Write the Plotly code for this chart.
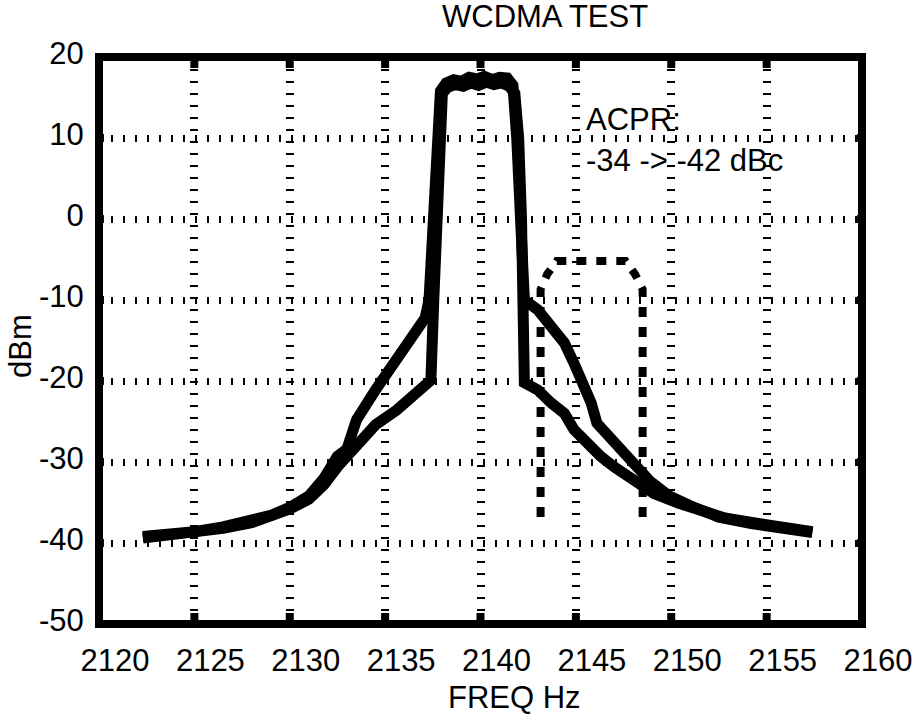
import plotly.graph_objects as go

# ---- data ----
freq_a = [2122.3, 2123.5, 2125.0, 2126.5, 2128.0, 2129.0, 2130.0, 2131.0, 2131.8, 2132.5,
          2133.0, 2133.5, 2134.5, 2135.6, 2136.4, 2136.9, 2137.1, 2137.3, 2137.5, 2137.7,
          2137.9, 2138.2, 2138.6, 2139.0, 2139.4, 2139.8, 2140.2, 2140.6, 2141.0, 2141.4,
          2141.7, 2141.9, 2142.1, 2142.3, 2143.0, 2143.7, 2144.4, 2144.9, 2145.4, 2145.8,
          2146.1, 2146.8, 2147.5, 2148.2, 2148.9, 2149.9, 2151.0, 2152.5, 2154.2, 2155.9,
          2157.4]
dbm_a = [-39.2, -39.0, -38.6, -38.0, -37.3, -36.6, -35.6, -34.2, -32.0, -29.3,
         -28.4, -24.8, -21.1, -17.4, -14.9, -13.0, -12.2, -10.0, 0.0, 10.0,
         15.8, 16.8, 17.2, 17.0, 17.5, 17.3, 17.6, 17.2, 17.5, 17.4,
         16.5, 10.0, 0.0, -10.0, -11.2, -13.3, -15.3, -17.8, -20.3, -22.7,
         -25.2, -26.9, -28.5, -30.6, -32.4, -34.2, -35.4, -36.8, -37.6, -38.2,
         -38.7]

freq_b = [2122.3, 2123.5, 2125.0, 2126.5, 2128.0, 2129.0, 2130.0, 2131.0, 2131.8, 2132.5,
          2133.5, 2134.5, 2135.6, 2136.6, 2137.2, 2137.4, 2137.55, 2137.7, 2137.85, 2138.0,
          2138.3, 2138.7, 2139.1, 2139.5, 2139.9, 2140.3, 2140.7, 2141.1, 2141.5, 2141.8,
          2142.0, 2142.15, 2142.3, 2143.0, 2143.7, 2144.4, 2144.9, 2145.6, 2146.3, 2147.0,
          2148.0, 2149.1, 2150.4, 2151.5, 2152.8, 2154.3, 2155.8, 2157.4]
dbm_b = [-39.4, -39.1, -38.8, -38.2, -37.5, -36.8, -35.8, -34.6, -32.8, -30.6,
         -27.9, -25.4, -23.6, -21.7, -20.5, -19.9, -10.0, 0.0, 10.0, 15.5,
         16.3, 16.6, 16.4, 16.8, 16.5, 16.9, 16.6, 16.8, 16.4, 15.5,
         10.0, 0.0, -20.2, -21.1, -22.7, -24.0, -26.0, -27.7, -29.3, -30.6,
         -32.2, -33.9, -35.1, -36.0, -36.9, -37.5, -38.1, -38.6]

mask_f = [2143.15, 2143.15, 2143.5, 2144.0, 2147.6, 2148.1, 2148.5, 2148.5]
mask_db = [-36.8, -8.7, -6.8, -5.2, -5.2, -6.8, -8.7, -36.8]

x_ticks = [2120, 2125, 2130, 2135, 2140, 2145, 2150, 2155, 2160]
y_ticks = [-50, -40, -30, -20, -10, 0, 10, 20]

W, H = 924, 722
L, R, T, B = 99, 871, 57, 624  # plot area in px

FONT = "Liberation Sans, Arial, sans-serif"
FS = 31

fig = go.Figure()
fig.add_trace(go.Scatter(x=mask_f, y=mask_db, mode="lines",
                         line=dict(color="black", width=8, dash="10px,10px"),
                         showlegend=False, hoverinfo="skip"))
fig.add_trace(go.Scatter(x=freq_a, y=dbm_a, mode="lines",
                         line=dict(color="black", width=11),
                         showlegend=False, hoverinfo="skip"))
fig.add_trace(go.Scatter(x=freq_b, y=dbm_b, mode="lines",
                         line=dict(color="black", width=11),
                         showlegend=False, hoverinfo="skip"))

def px2paper_x(px):
    return (px - L) / (R - L)

def px2paper_y(py):
    return (B - py) / (B - T)

common = dict(showgrid=True, gridcolor="black", griddash="2px,10px", zeroline=False,
              showline=True, linecolor="black", linewidth=4, mirror=True, ticks="",
              tickfont=dict(family=FONT, size=FS, color="black"))

# inward tick marks (thick MATLAB-style) built from the tick lists
XT = 11 / (B - T)   # x tick length in paper units
YT = 5 / (R - L)    # y tick length in paper units
tick_style = dict(layer="above", fillcolor="black", line=dict(color="black", width=8))
shapes = []
for v in x_ticks[1:-1]:
    shapes.append(dict(type="rect", xref="x", yref="paper", x0=v, x1=v, y0=0, y1=XT, **tick_style))
    shapes.append(dict(type="rect", xref="x", yref="paper", x0=v, x1=v, y0=1 - XT, y1=1, **tick_style))
for v in y_ticks[1:-1]:
    shapes.append(dict(type="rect", xref="paper", yref="y", x0=0, x1=YT, y0=v, y1=v, **tick_style))
    shapes.append(dict(type="rect", xref="paper", yref="y", x0=1 - YT, x1=1, y0=v, y1=v, **tick_style))
shapes.append(dict(type="rect", xref="paper", yref="paper", x0=0, x1=1, y0=0, y1=1,
                   line=dict(color="black", width=8), layer="above"))

fig.update_layout(
    width=W, height=H,
    margin=dict(l=L, r=W - R, t=T, b=H - B, pad=0),
    paper_bgcolor="white", plot_bgcolor="white",
    font=dict(family=FONT, size=FS, color="black"),
    xaxis=dict(range=[2120, 2160], tickvals=x_ticks, ticktext=[str(v) for v in x_ticks],
               gridwidth=8, ticklabelshift=16, ticklabelstandoff=6, **common),
    yaxis=dict(range=[-50, 20], tickvals=y_ticks, ticktext=[str(v) for v in y_ticks],
               gridwidth=7, ticklabelshift=-4, ticklabelstandoff=5, **common),
    shapes=shapes,
    annotations=[
        dict(text="WCDMA TEST", xref="paper", yref="paper", x=px2paper_x(550), y=px2paper_y(16),
             xanchor="center", yanchor="middle", showarrow=False, font=dict(size=FS)),
        dict(text="FREQ Hz", xref="paper", yref="paper", x=px2paper_x(519), y=px2paper_y(697),
             xanchor="center", yanchor="middle", showarrow=False, font=dict(size=FS)),
        dict(text="dBm", xref="paper", yref="paper", x=px2paper_x(19), y=px2paper_y(346),
             xanchor="center", yanchor="middle", showarrow=False, textangle=-90, font=dict(size=FS)),
        dict(text="ACPR:", xref="paper", yref="paper", x=px2paper_x(590), y=px2paper_y(119),
             xanchor="left", yanchor="middle", showarrow=False, font=dict(size=FS)),
        dict(text="-34 -> -42 dBc", xref="paper", yref="paper", x=px2paper_x(590), y=px2paper_y(160),
             xanchor="left", yanchor="middle", showarrow=False, font=dict(size=FS)),
    ],
)

fig.write_html("out.html")
